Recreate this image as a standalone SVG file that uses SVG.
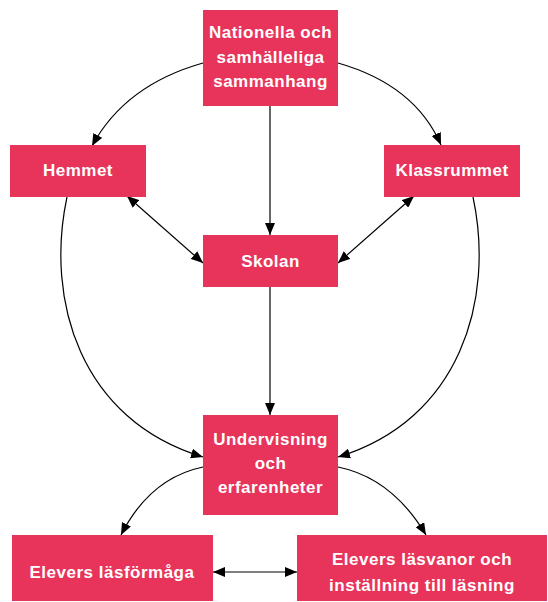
<svg xmlns="http://www.w3.org/2000/svg" width="548" height="602" viewBox="0 0 548 602">
<defs>
<marker id="ah" viewBox="0 0 12 10" refX="12" refY="5" markerWidth="12" markerHeight="10" markerUnits="userSpaceOnUse" orient="auto-start-reverse">
<path d="M0,0 L12,5 L0,10 z" fill="#000"/>
</marker>
<style>
.box{fill:#e8345a;}
.t{fill:#fff;font-family:"Liberation Sans",Arial,sans-serif;font-weight:bold;font-size:17px;letter-spacing:0.5px;text-anchor:middle;}
.c{fill:none;stroke:#000;stroke-width:1.2;}
</style>
</defs>
<rect width="548" height="602" fill="#fff"/>
<g id="connectors">
<path class="c" d="M203,63 Q125,85 92,146" marker-end="url(#ah)"/>
<path class="c" d="M338,63 Q415,85 441,145" marker-end="url(#ah)"/>
<path class="c" d="M270,106 L270,235" marker-end="url(#ah)"/>
<path class="c" d="M127,196 L203,263" marker-start="url(#ah)" marker-end="url(#ah)"/>
<path class="c" d="M414,196 L338,263" marker-start="url(#ah)" marker-end="url(#ah)"/>
<path class="c" d="M270,287 L270,415" marker-end="url(#ah)"/>
<path class="c" d="M67,197 C45,300 80,420 203,457" marker-end="url(#ah)"/>
<path class="c" d="M473,197 C495,300 460,420 338,457" marker-end="url(#ah)"/>
<path class="c" d="M203,467 Q150,478 121,535" marker-end="url(#ah)"/>
<path class="c" d="M338,467 Q392,478 426,535" marker-end="url(#ah)"/>
<path class="c" d="M213,572 L297,572" marker-start="url(#ah)" marker-end="url(#ah)"/>
</g>
<g id="nationella">
<rect class="box" x="203" y="10" width="135" height="96"/>
<text class="t" x="270.5" y="38">Nationella och</text>
<text class="t" x="270.5" y="63">samhälleliga</text>
<text class="t" x="270.5" y="87">sammanhang</text>
</g>
<g id="hemmet">
<rect class="box" x="10" y="145" width="136" height="52"/>
<text class="t" x="78" y="176">Hemmet</text>
</g>
<g id="klassrummet">
<rect class="box" x="384" y="145" width="136" height="52"/>
<text class="t" x="452" y="176">Klassrummet</text>
</g>
<g id="skolan">
<rect class="box" x="203" y="235" width="135" height="52"/>
<text class="t" x="270.5" y="267">Skolan</text>
</g>
<g id="undervisning">
<rect class="box" x="203" y="415" width="135" height="100"/>
<text class="t" x="270.5" y="445">Undervisning</text>
<text class="t" x="270.5" y="469">och</text>
<text class="t" x="270.5" y="493">erfarenheter</text>
</g>
<g id="lasformaga">
<rect class="box" x="12" y="535" width="201" height="66"/>
<text class="t" x="112" y="578">Elevers läsförmåga</text>
</g>
<g id="lasvanor">
<rect class="box" x="297" y="535" width="250" height="66"/>
<text class="t" x="422" y="565">Elevers läsvanor och</text>
<text class="t" x="422" y="591">inställning till läsning</text>
</g>
</svg>
